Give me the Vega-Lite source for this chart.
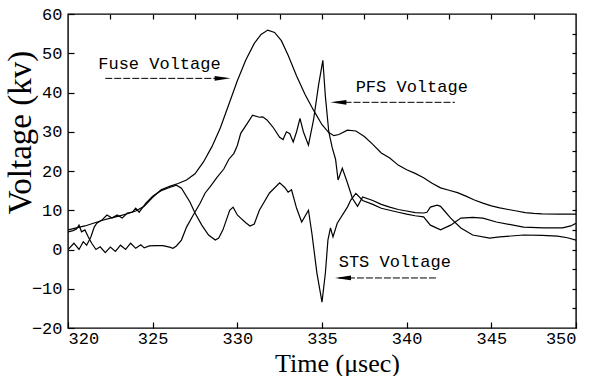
{
  "$schema": "https://vega.github.io/schema/vega-lite/v6.json",
  "width": 508,
  "height": 314,
  "autosize": "none",
  "padding": {"left": 68, "top": 14, "right": 16, "bottom": 48},
  "background": "white",
  "resolve": {"axis": {"x": "independent", "y": "independent"}},
  "config": {
    "view": {"stroke": "black", "strokeWidth": 1.4},
    "axis": {
      "domain": false, "grid": false, "ticks": true, "tickColor": "black", "tickWidth": 1.2, "labelColor": "black",
      "titleColor": "black", "labelFont": "Liberation Mono", "labelFontSize": 17,
      "titleFont": "Liberation Serif", "titleFontWeight": 400
    }
  },
  "datasets": {
    "curves": [
      {"s":"Fuse","t":320.0,"v":5.0},{"s":"Fuse","t":320.5,"v":5.5},{"s":"Fuse","t":321.0,"v":6.0},{"s":"Fuse","t":321.5,"v":6.7},
      {"s":"Fuse","t":322.0,"v":7.4},{"s":"Fuse","t":322.5,"v":8.0},{"s":"Fuse","t":323.0,"v":8.5},{"s":"Fuse","t":323.5,"v":9.1},
      {"s":"Fuse","t":324.0,"v":9.8},{"s":"Fuse","t":324.5,"v":11.0},{"s":"Fuse","t":325.0,"v":13.3},{"s":"Fuse","t":325.5,"v":15.2},
      {"s":"Fuse","t":326.0,"v":16.1},{"s":"Fuse","t":326.5,"v":16.8},{"s":"Fuse","t":327.0,"v":17.7},{"s":"Fuse","t":327.5,"v":19.3},
      {"s":"Fuse","t":328.0,"v":22.3},{"s":"Fuse","t":328.5,"v":26.2},{"s":"Fuse","t":329.0,"v":31.0},{"s":"Fuse","t":329.5,"v":37.0},
      {"s":"Fuse","t":330.0,"v":43.0},{"s":"Fuse","t":330.5,"v":48.3},{"s":"Fuse","t":331.0,"v":52.5},{"s":"Fuse","t":331.4,"v":54.8},
      {"s":"Fuse","t":331.8,"v":55.9},{"s":"Fuse","t":332.2,"v":55.3},{"s":"Fuse","t":332.6,"v":53.2},{"s":"Fuse","t":333.0,"v":49.5},
      {"s":"Fuse","t":333.5,"v":44.2},{"s":"Fuse","t":334.0,"v":39.5},{"s":"Fuse","t":334.5,"v":35.5},{"s":"Fuse","t":335.0,"v":31.8},
      {"s":"Fuse","t":335.4,"v":29.8},{"s":"Fuse","t":335.7,"v":29.0},{"s":"Fuse","t":336.0,"v":29.3},{"s":"Fuse","t":336.5,"v":30.4},
      {"s":"Fuse","t":337.0,"v":30.2},{"s":"Fuse","t":337.5,"v":28.8},{"s":"Fuse","t":338.0,"v":26.8},{"s":"Fuse","t":338.5,"v":24.6},
      {"s":"Fuse","t":339.0,"v":23.3},{"s":"Fuse","t":339.5,"v":21.5},{"s":"Fuse","t":340.0,"v":20.3},{"s":"Fuse","t":340.5,"v":19.4},
      {"s":"Fuse","t":341.0,"v":18.3},{"s":"Fuse","t":341.5,"v":16.9},{"s":"Fuse","t":342.0,"v":15.7},{"s":"Fuse","t":342.5,"v":15.1},
      {"s":"Fuse","t":343.0,"v":14.5},{"s":"Fuse","t":343.5,"v":13.6},{"s":"Fuse","t":344.0,"v":12.6},{"s":"Fuse","t":344.5,"v":11.8},
      {"s":"Fuse","t":345.0,"v":11.1},{"s":"Fuse","t":345.5,"v":10.6},{"s":"Fuse","t":346.0,"v":10.2},{"s":"Fuse","t":346.5,"v":9.8},
      {"s":"Fuse","t":347.0,"v":9.4},{"s":"Fuse","t":347.5,"v":9.2},{"s":"Fuse","t":348.0,"v":9.1},{"s":"Fuse","t":349.0,"v":9.0},
      {"s":"Fuse","t":350.0,"v":9.0},
      {"s":"PFS","t":320.0,"v":4.5},{"s":"PFS","t":320.3,"v":4.8},{"s":"PFS","t":320.5,"v":5.2},{"s":"PFS","t":320.65,"v":6.2},
      {"s":"PFS","t":320.8,"v":4.5},{"s":"PFS","t":321.0,"v":5.0},{"s":"PFS","t":321.2,"v":3.2},{"s":"PFS","t":321.4,"v":1.6},
      {"s":"PFS","t":321.65,"v":0.0},{"s":"PFS","t":321.9,"v":0.7},{"s":"PFS","t":322.2,"v":-0.8},{"s":"PFS","t":322.5,"v":0.6},
      {"s":"PFS","t":322.8,"v":-0.5},{"s":"PFS","t":323.1,"v":1.1},{"s":"PFS","t":323.4,"v":0.0},{"s":"PFS","t":323.7,"v":1.6},
      {"s":"PFS","t":324.0,"v":0.3},{"s":"PFS","t":324.3,"v":1.2},{"s":"PFS","t":324.5,"v":0.4},{"s":"PFS","t":324.8,"v":0.9},
      {"s":"PFS","t":325.2,"v":1.0},{"s":"PFS","t":325.6,"v":1.0},{"s":"PFS","t":326.0,"v":0.6},{"s":"PFS","t":326.2,"v":0.3},
      {"s":"PFS","t":326.4,"v":0.9},{"s":"PFS","t":326.7,"v":2.4},{"s":"PFS","t":327.0,"v":5.7},{"s":"PFS","t":327.4,"v":8.8},
      {"s":"PFS","t":327.8,"v":11.8},{"s":"PFS","t":328.1,"v":14.4},{"s":"PFS","t":328.4,"v":16.0},{"s":"PFS","t":328.8,"v":18.4},
      {"s":"PFS","t":329.2,"v":20.5},{"s":"PFS","t":329.5,"v":23.0},{"s":"PFS","t":329.8,"v":24.5},{"s":"PFS","t":330.0,"v":26.5},
      {"s":"PFS","t":330.2,"v":29.6},{"s":"PFS","t":330.6,"v":32.2},{"s":"PFS","t":330.9,"v":34.2},{"s":"PFS","t":331.3,"v":33.7},
      {"s":"PFS","t":331.5,"v":33.8},{"s":"PFS","t":331.75,"v":33.0},{"s":"PFS","t":332.1,"v":31.2},{"s":"PFS","t":332.5,"v":28.6},
      {"s":"PFS","t":332.7,"v":28.0},{"s":"PFS","t":332.9,"v":30.0},{"s":"PFS","t":333.1,"v":29.5},{"s":"PFS","t":333.3,"v":27.4},
      {"s":"PFS","t":333.5,"v":30.0},{"s":"PFS","t":333.7,"v":33.4},{"s":"PFS","t":333.9,"v":30.0},{"s":"PFS","t":334.2,"v":26.6},
      {"s":"PFS","t":334.5,"v":33.0},{"s":"PFS","t":334.8,"v":42.0},{"s":"PFS","t":335.05,"v":48.2},{"s":"PFS","t":335.2,"v":39.0},
      {"s":"PFS","t":335.4,"v":30.0},{"s":"PFS","t":335.6,"v":26.0},{"s":"PFS","t":335.8,"v":23.0},{"s":"PFS","t":335.95,"v":17.7},
      {"s":"PFS","t":336.2,"v":20.7},{"s":"PFS","t":336.5,"v":17.0},{"s":"PFS","t":336.8,"v":13.0},{"s":"PFS","t":337.1,"v":11.0},
      {"s":"PFS","t":337.4,"v":13.4},{"s":"PFS","t":338.0,"v":12.5},{"s":"PFS","t":338.5,"v":11.5},{"s":"PFS","t":339.0,"v":10.8},
      {"s":"PFS","t":339.5,"v":10.2},{"s":"PFS","t":340.0,"v":9.8},{"s":"PFS","t":340.5,"v":9.4},{"s":"PFS","t":341.0,"v":9.3},
      {"s":"PFS","t":341.2,"v":9.5},{"s":"PFS","t":341.4,"v":10.8},{"s":"PFS","t":341.8,"v":11.3},{"s":"PFS","t":342.0,"v":11.0},
      {"s":"PFS","t":342.2,"v":10.0},{"s":"PFS","t":342.6,"v":8.0},{"s":"PFS","t":343.2,"v":5.5},{"s":"PFS","t":343.9,"v":3.7},
      {"s":"PFS","t":344.9,"v":2.9},{"s":"PFS","t":345.5,"v":3.2},{"s":"PFS","t":346.9,"v":3.7},{"s":"PFS","t":348.0,"v":3.6},
      {"s":"PFS","t":348.9,"v":3.4},{"s":"PFS","t":349.5,"v":3.0},{"s":"PFS","t":350.0,"v":2.4},
      {"s":"STS","t":320.0,"v":0.0},{"s":"STS","t":320.35,"v":1.6},{"s":"STS","t":320.65,"v":0.0},{"s":"STS","t":320.9,"v":2.0},
      {"s":"STS","t":321.1,"v":1.1},{"s":"STS","t":321.35,"v":3.2},{"s":"STS","t":321.55,"v":5.7},{"s":"STS","t":321.7,"v":6.7},
      {"s":"STS","t":322.0,"v":7.5},{"s":"STS","t":322.3,"v":8.8},{"s":"STS","t":322.6,"v":8.0},{"s":"STS","t":322.9,"v":8.8},
      {"s":"STS","t":323.2,"v":8.0},{"s":"STS","t":323.5,"v":9.3},{"s":"STS","t":323.8,"v":9.5},{"s":"STS","t":324.0,"v":10.5},
      {"s":"STS","t":324.2,"v":9.5},{"s":"STS","t":324.6,"v":11.8},{"s":"STS","t":325.0,"v":13.6},{"s":"STS","t":325.5,"v":15.0},
      {"s":"STS","t":326.0,"v":15.8},{"s":"STS","t":326.4,"v":16.4},{"s":"STS","t":326.7,"v":15.6},{"s":"STS","t":327.2,"v":12.1},
      {"s":"STS","t":327.5,"v":9.3},{"s":"STS","t":327.9,"v":6.2},{"s":"STS","t":328.3,"v":3.7},{"s":"STS","t":328.7,"v":2.4},
      {"s":"STS","t":328.9,"v":2.9},{"s":"STS","t":329.15,"v":5.0},{"s":"STS","t":329.55,"v":10.0},{"s":"STS","t":329.75,"v":10.8},
      {"s":"STS","t":330.0,"v":8.8},{"s":"STS","t":330.2,"v":8.0},{"s":"STS","t":330.5,"v":6.8},{"s":"STS","t":330.75,"v":6.0},
      {"s":"STS","t":331.0,"v":6.5},{"s":"STS","t":331.3,"v":10.0},{"s":"STS","t":331.9,"v":14.4},{"s":"STS","t":332.5,"v":17.0},
      {"s":"STS","t":332.8,"v":15.8},{"s":"STS","t":333.0,"v":14.6},{"s":"STS","t":333.2,"v":15.2},{"s":"STS","t":333.5,"v":10.5},
      {"s":"STS","t":333.8,"v":7.0},{"s":"STS","t":334.2,"v":10.0},{"s":"STS","t":334.4,"v":4.2},{"s":"STS","t":334.7,"v":-6.0},
      {"s":"STS","t":335.0,"v":-13.4},{"s":"STS","t":335.2,"v":-6.0},{"s":"STS","t":335.35,"v":2.4},{"s":"STS","t":335.5,"v":5.5},
      {"s":"STS","t":335.65,"v":3.2},{"s":"STS","t":335.9,"v":6.7},{"s":"STS","t":336.5,"v":10.8},{"s":"STS","t":336.7,"v":12.6},
      {"s":"STS","t":337.0,"v":14.3},{"s":"STS","t":337.4,"v":12.5},{"s":"STS","t":338.0,"v":11.5},{"s":"STS","t":338.5,"v":10.5},
      {"s":"STS","t":339.0,"v":10.0},{"s":"STS","t":339.5,"v":9.5},{"s":"STS","t":340.0,"v":9.0},{"s":"STS","t":340.5,"v":8.6},
      {"s":"STS","t":341.0,"v":8.3},{"s":"STS","t":341.4,"v":6.2},{"s":"STS","t":342.0,"v":5.0},{"s":"STS","t":342.6,"v":6.2},
      {"s":"STS","t":343.2,"v":8.0},{"s":"STS","t":343.9,"v":8.2},{"s":"STS","t":344.5,"v":8.0},{"s":"STS","t":345.3,"v":7.0},
      {"s":"STS","t":346.9,"v":5.7},{"s":"STS","t":348.1,"v":5.5},{"s":"STS","t":349.2,"v":5.5},{"s":"STS","t":349.7,"v":6.0},
      {"s":"STS","t":350.0,"v":6.7}
    ],
    "labels": [
      {"label":"Fuse Voltage","t":325.4,"v":47.2},
      {"label":"PFS Voltage","t":340.3,"v":41.3},
      {"label":"STS Voltage","t":339.3,"v":-3.2}
    ],
    "arrows": [
      {"t":322.2,"t2":329.3,"v":43.6,"h":329.13,"dir":"r"},
      {"t":335.8,"t2":342.85,"v":37.5,"h":335.97,"dir":"l"},
      {"t":336.0,"t2":341.85,"v":-7.25,"h":336.24,"dir":"l"}
    ]
  },
  "layer": [
    {
      "data": {"name": "curves"},
      "mark": {"type": "line", "color": "black", "strokeWidth": 1.2, "clip": true},
      "encoding": {
        "x": {"field": "t", "type": "quantitative",
          "scale": {"domain": [320, 350], "nice": false, "zero": false},
          "axis": {"orient": "bottom", "values": [320,325,330,335,340,345,350], "offset": -6, "tickSize": 6, "labelPadding": 2,
            "title": "Time (μsec)", "titleFontSize": 26, "titleFontWeight": 400, "titleX": 269, "titleY": 49, "titleBaseline": "alphabetic", "titleAlign": "center"}},
        "y": {"field": "v", "type": "quantitative",
          "scale": {"domain": [-20, 60], "nice": false, "zero": false},
          "axis": {"orient": "left", "values": [-20,-10,0,10,20,30,40,50,60], "offset": -6, "tickSize": 6, "labelPadding": 6,
            "title": "Voltage (kv)", "titleFontSize": 33, "titleFontWeight": 400, "titleX": -54, "titleY": 118, "titleAngle": -90, "titleBaseline": "middle", "titleAlign": "center"}},
        "detail": {"field": "s"}
      }
    },
    {
      "data": {"name": "labels"},
      "mark": {"type": "text", "font": "Liberation Mono", "fontSize": 17, "color": "black", "align": "center", "baseline": "middle"},
      "encoding": {
        "x": {"field": "t", "type": "quantitative",
          "axis": {"orient": "top", "labels": false, "title": null, "offset": -5, "tickSize": 5,
            "values": [322.5,325,327.5,330,332.5,335,337.5,340,342.5,345,347.5]}},
        "y": {"field": "v", "type": "quantitative",
          "axis": {"orient": "right", "labels": false, "title": null, "offset": -4, "tickSize": 4,
            "values": [-15,-10,-5,0,5,10,15,20,25,30,35,40,45,50,55]}},
        "text": {"field": "label"}
      }
    },
    {
      "data": {"name": "arrows"},
      "mark": {"type": "rule", "color": "black", "strokeWidth": 1, "strokeDash": [7, 2]},
      "encoding": {
        "x": {"field": "t", "type": "quantitative", "axis": null},
        "x2": {"field": "t2"},
        "y": {"field": "v", "type": "quantitative", "axis": null}
      }
    },
    {
      "data": {"name": "arrows"},
      "mark": {"type": "point", "filled": true, "color": "black", "size": 256, "opacity": 1, "strokeWidth": 0},
      "encoding": {
        "x": {"field": "h", "type": "quantitative", "axis": null},
        "y": {"field": "v", "type": "quantitative", "axis": null},
        "shape": {"field": "dir", "type": "nominal", "legend": null,
          "scale": {"domain": ["r", "l"], "range": ["M-1,-0.3L1,0L-1,0.3Z", "M1,-0.3L-1,0L1,0.3Z"]}}
      }
    }
  ]
}
